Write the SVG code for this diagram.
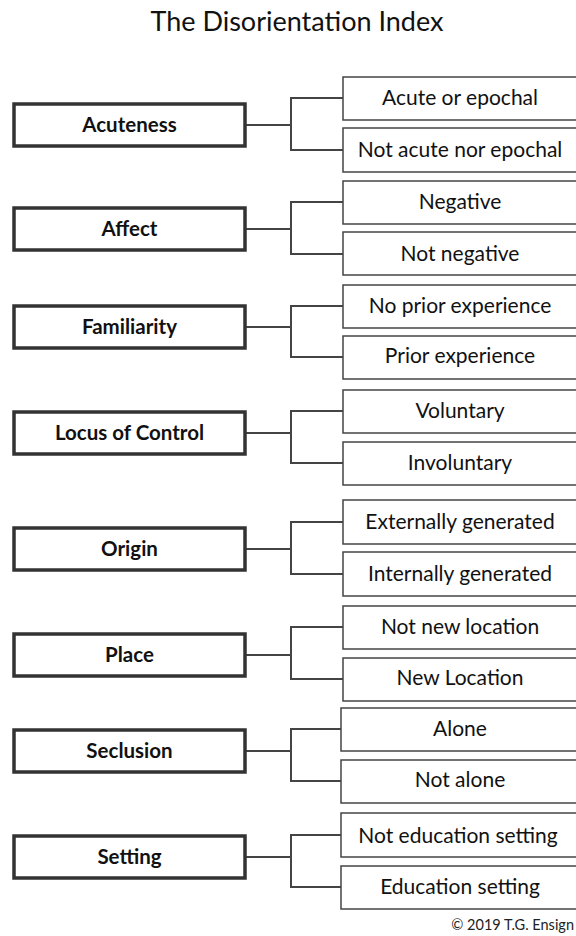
<svg xmlns="http://www.w3.org/2000/svg" width="576" height="936" viewBox="0 0 576 936">
<style>
.p{fill:#fff;stroke:#333;stroke-width:3.5}
.c{fill:#fff;stroke:#444;stroke-width:1.5}
.pt{font-family:Lato,"Noto Sans",sans-serif;font-weight:bold;font-size:20.5px;fill:#111;text-anchor:middle}
.ct{font-family:Lato,"Noto Sans",sans-serif;font-size:21px;fill:#111;text-anchor:middle}
.ln{fill:none;stroke:#444;stroke-width:2}
</style>
<rect width="576" height="936" fill="#fff"/>
<text x="297" y="31" font-family="Lato,'Noto Sans',sans-serif" font-size="27" fill="#111" text-anchor="middle">The Disorientation Index</text>
<g id="connectors">
<path class="ln" d="M245 125H291M343 98H291V150H343"/>
<path class="ln" d="M245 229H291M343 202H291V254H343"/>
<path class="ln" d="M245 327H291M343 306H291V357H343"/>
<path class="ln" d="M245 433H291M343 411H291V463H343"/>
<path class="ln" d="M245 549H291M343 522H291V574H343"/>
<path class="ln" d="M245 655H291M343 627H291V679H343"/>
<path class="ln" d="M245 751H291M341 729H291V781H341"/>
<path class="ln" d="M245 857H291M341 835H291V887H341"/>
</g>
<g id="acuteness"><rect class="p" x="14" y="104" width="231" height="42"/><text class="pt" x="129.5" y="132">Acuteness</text></g>
<g id="acute"><rect class="c" x="343" y="77" width="240" height="43"/><text class="ct" x="460" y="105">Acute or epochal</text></g>
<g id="notacute"><rect class="c" x="343" y="128" width="240" height="44"/><text class="ct" x="460" y="157">Not acute nor epochal</text></g>
<g id="affect"><rect class="p" x="14" y="208" width="231" height="42"/><text class="pt" x="129.5" y="236">Affect</text></g>
<g id="negative"><rect class="c" x="343" y="181" width="240" height="43"/><text class="ct" x="460" y="209">Negative</text></g>
<g id="notnegative"><rect class="c" x="343" y="232" width="240" height="43"/><text class="ct" x="460" y="261">Not negative</text></g>
<g id="familiarity"><rect class="p" x="14" y="306" width="231" height="42"/><text class="pt" x="129.5" y="334">Familiarity</text></g>
<g id="noprior"><rect class="c" x="343" y="285" width="240" height="43"/><text class="ct" x="460" y="313">No prior experience</text></g>
<g id="prior"><rect class="c" x="343" y="336" width="240" height="43"/><text class="ct" x="460" y="363">Prior experience</text></g>
<g id="locus"><rect class="p" x="14" y="412" width="231" height="42"/><text class="pt" x="129.5" y="440">Locus of Control</text></g>
<g id="voluntary"><rect class="c" x="343" y="390" width="240" height="43"/><text class="ct" x="460" y="418">Voluntary</text></g>
<g id="involuntary"><rect class="c" x="343" y="442" width="240" height="43"/><text class="ct" x="460" y="470">Involuntary</text></g>
<g id="origin"><rect class="p" x="14" y="528" width="231" height="42"/><text class="pt" x="129.5" y="556">Origin</text></g>
<g id="external"><rect class="c" x="343" y="500" width="240" height="44"/><text class="ct" x="460" y="529">Externally generated</text></g>
<g id="internal"><rect class="c" x="343" y="552" width="240" height="44"/><text class="ct" x="460" y="581">Internally generated</text></g>
<g id="place"><rect class="p" x="14" y="634" width="231" height="42"/><text class="pt" x="129.5" y="662">Place</text></g>
<g id="notnew"><rect class="c" x="343" y="606" width="240" height="43"/><text class="ct" x="460" y="634">Not new location</text></g>
<g id="newloc"><rect class="c" x="343" y="658" width="240" height="43"/><text class="ct" x="460" y="685">New Location</text></g>
<g id="seclusion"><rect class="p" x="14" y="730" width="231" height="42"/><text class="pt" x="129.5" y="758">Seclusion</text></g>
<g id="alone"><rect class="c" x="341" y="708" width="242" height="43"/><text class="ct" x="460" y="736">Alone</text></g>
<g id="notalone"><rect class="c" x="341" y="760" width="242" height="43"/><text class="ct" x="460" y="787">Not alone</text></g>
<g id="setting"><rect class="p" x="14" y="836" width="231" height="42"/><text class="pt" x="129.5" y="864">Setting</text></g>
<g id="noteducation"><rect class="c" x="341" y="813" width="242" height="44"/><text class="ct" x="458" y="843">Not education setting</text></g>
<g id="education"><rect class="c" x="341" y="866" width="242" height="43"/><text class="ct" x="460" y="894">Education setting</text></g>
<text x="574" y="930" font-family="Lato,'Noto Sans',sans-serif" font-size="14.5" fill="#222" text-anchor="end">© 2019 T.G. Ensign</text>
</svg>
